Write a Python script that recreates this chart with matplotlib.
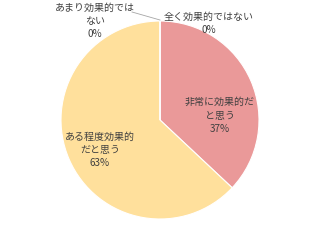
import matplotlib
matplotlib.use("Agg")
import matplotlib.pyplot as plt

# data
labels = ["非常に効果的だ\nと思う", "ある程度効果的\nだと思う", "あまり効果的では\nない", "全く効果的ではない"]
values = [37, 63, 0, 0]
colors = ["#EA9999", "#FFE09C", "#C9D9F0", "#B7C9E6"]

plt.rcParams["font.family"] = ["Noto Sans CJK JP", "DejaVu Sans"]

fig = plt.figure(figsize=(3.2, 2.4), dpi=100)
ax = fig.add_axes([0, 0, 1, 1])

ax.pie(values, colors=colors, startangle=90, counterclock=False, radius=1,
       center=(0, 0), frame=True,
       wedgeprops=dict(edgecolor="white", linewidth=0.8))
ax.set_xlim(-160 / 99, 160 / 99)
ax.set_ylim(-120 / 99, 120 / 99)
ax.axis("off")

# label positions (pixel offsets from centre, converted to data units)
pos = [(60, 4.5), (-60, -30), (-65, 99), (49, 97)]
txt = "#404040"
for lab, v, (px, py) in zip(labels, values, pos):
    ax.text(px / 99, py / 99, f"{lab}\n{v}%", ha="center", va="center",
            fontsize=7.2, color=txt, linespacing=1.4)

# leader line for the small slice
ax.plot([-28 / 99, 0], [108 / 99, 100 / 99], color="#A6A6A6", lw=0.6)

fig.savefig("out.png", dpi=100)
